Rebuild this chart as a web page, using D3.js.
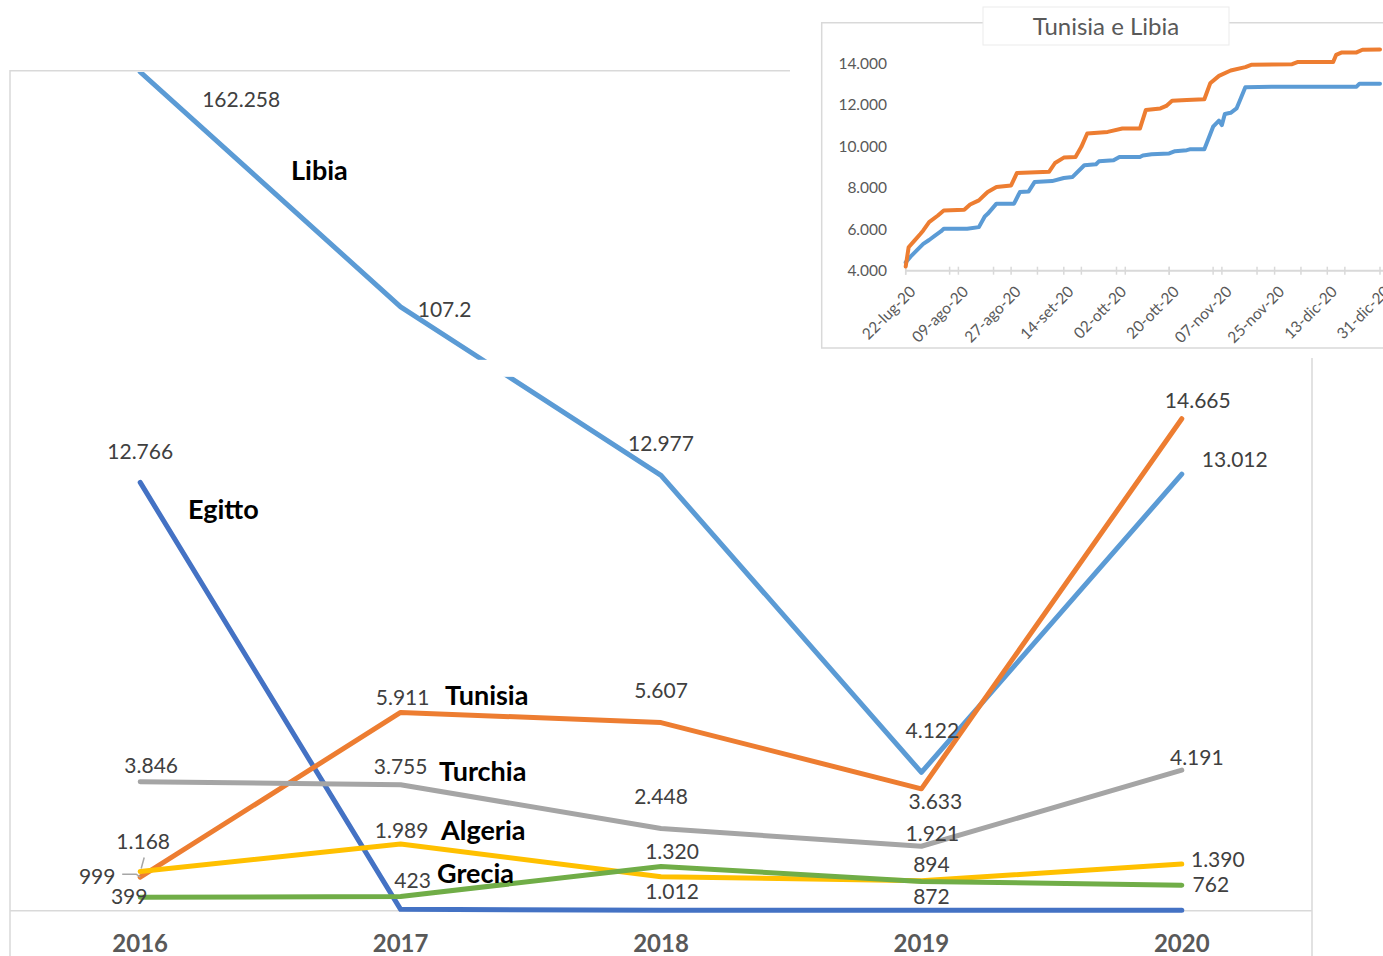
<!DOCTYPE html>
<html>
<head>
<meta charset="utf-8">
<script src="https://cdn.jsdelivr.net/npm/d3@7"></script>
<style>
body { margin: 0; background: #fff; }
text { font-family: Lato, "Open Sans", sans-serif; }
</style>
</head>
<body>
<div id="chart"></div>
<script>
// Main chart data (arrivals by country of departure)
var years = ["2016", "2017", "2018", "2019", "2020"];
// Libia: the first two years are off the scale, the line is drawn broken
var libiaValues = [25000, 18000, 12977, 4122, 13012];
var libiaLabels = ["162.258", "107.2", "12.977", "4.122", "13.012"];
var egittoValues = [12766, 40, 10, 10, 10];
var tunisiaValues = [999, 5911, 5607, 3633, 14665];
var turchiaValues = [3846, 3755, 2448, 1921, 4191];
var algeriaValues = [1168, 1989, 1012, 894, 1390];
var greciaValues = [399, 423, 1320, 872, 762];

// Inset data: Tunisia e Libia, cumulative 2020
var tunisiaDates = ["2020-07-22","2020-07-23","2020-07-25","2020-07-27","2020-07-28","2020-07-30",
  "2020-08-02","2020-08-04","2020-08-11","2020-08-13","2020-08-16","2020-08-18","2020-08-19",
  "2020-08-22","2020-08-27","2020-08-29","2020-09-09","2020-09-11","2020-09-14","2020-09-18",
  "2020-09-20","2020-09-22","2020-09-29","2020-10-04","2020-10-10","2020-10-12","2020-10-17",
  "2020-10-19","2020-10-21","2020-10-26","2020-11-01","2020-11-03","2020-11-06","2020-11-10",
  "2020-11-15","2020-11-17","2020-12-01","2020-12-03","2020-12-15","2020-12-16","2020-12-18",
  "2020-12-23","2020-12-25","2020-12-31"];
var tunisiaCum = [4200,5130,5450,5770,5940,6340,
  6660,6900,6940,7190,7390,7660,7790,
  8030,8110,8710,8770,9190,9450,9480,
  9970,10610,10690,10850,10850,11740,11820,
  11940,12190,12230,12260,13030,13390,13650,
  13810,13920,13950,14060,14060,14400,14520,
  14520,14650,14665];
var libiaDates = ["2020-07-22","2020-07-24","2020-07-28","2020-07-30","2020-08-01","2020-08-03",
  "2020-08-04","2020-08-12","2020-08-16","2020-08-18","2020-08-19","2020-08-22","2020-08-28",
  "2020-08-30","2020-09-02","2020-09-04","2020-09-10","2020-09-14","2020-09-17","2020-09-21",
  "2020-09-25","2020-09-26","2020-10-01","2020-10-03","2020-10-10","2020-10-11","2020-10-14",
  "2020-10-20","2020-10-22","2020-10-26","2020-10-27","2020-11-01","2020-11-02","2020-11-04",
  "2020-11-06","2020-11-07","2020-11-08","2020-11-10","2020-11-12","2020-11-13","2020-11-15",
  "2020-11-24","2020-12-23","2020-12-24","2020-12-31"];
var libiaCum = [4400,4730,5290,5480,5690,5890,
  6020,6020,6100,6610,6740,7230,7230,
  7790,7820,8270,8320,8470,8520,9080,
  9130,9270,9320,9480,9480,9550,9610,
  9650,9760,9810,9850,9850,10210,10940,
  11230,11020,11550,11610,11820,12150,12840,
  12870,12870,13012,13012];
var insetTicks = [4000, 6000, 8000, 10000, 12000, 14000];

var svgWidth = 1383;
var svgHeight = 956;

var itFormat = d3.formatLocale({decimal: ",", thousands: ".", grouping: [3], currency: ["€", ""]}).format(",d");
var itTime = d3.timeFormatLocale({
  dateTime: "%A %e %B %Y, %X", date: "%d/%m/%Y", time: "%H:%M:%S",
  periods: ["AM", "PM"],
  days: ["domenica","lunedì","martedì","mercoledì","giovedì","venerdì","sabato"],
  shortDays: ["dom","lun","mar","mer","gio","ven","sab"],
  months: ["gennaio","febbraio","marzo","aprile","maggio","giugno","luglio","agosto","settembre","ottobre","novembre","dicembre"],
  shortMonths: ["gen","feb","mar","apr","mag","giu","lug","ago","set","ott","nov","dic"]
}).format("%d-%b-%y");

var svg = d3.select("#chart").append("svg")
  .attr("width", svgWidth)
  .attr("height", svgHeight);

// Main chart area
var plot = {left: 10, right: 1312, top: 72, bottom: 910.7};

var xScale = d3.scalePoint()
  .domain(years)
  .range([plot.left, plot.right])
  .padding(0.5);

var yScale = d3.scaleLinear()
  .domain([0, 25000])
  .range([plot.bottom, plot.top]);

var frameColor = "#d9d9d9";

// frame
svg.append("path")
  .attr("d", `M${plot.left},${svgHeight} V${plot.top - 1.3} H${plot.right} V${svgHeight}`)
  .attr("fill", "none")
  .attr("stroke", frameColor)
  .attr("stroke-width", 1.5);

// x axis line
svg.append("line")
  .attr("x1", plot.left).attr("x2", plot.right)
  .attr("y1", yScale(0)).attr("y2", yScale(0))
  .attr("stroke", frameColor)
  .attr("stroke-width", 1.5);

// year labels
svg.append("g").selectAll("text")
  .data(years)
  .enter()
  .append("text")
  .attr("x", d => xScale(d))
  .attr("y", 952)
  .attr("text-anchor", "middle")
  .attr("font-size", 24)
  .attr("font-weight", "bold")
  .attr("fill", "#595959")
  .text(d => d);

svg.append("clipPath").attr("id", "plotClip")
  .append("rect")
  .attr("x", plot.left).attr("y", plot.top)
  .attr("width", plot.right - plot.left)
  .attr("height", plot.bottom - plot.top + 10);

var series = [
  {name: "Libia", values: libiaValues, labels: libiaLabels, color: "#5B9BD5",
   offsets: [[101, 28], [44, 3], [0, -32], [11, -42], [53, -15]], namePos: [291, 171]},
  {name: "Egitto", values: egittoValues, labels: ["12.766", "", "", "", ""], color: "#4472C4",
   offsets: [[0, -31], null, null, null, null], namePos: [188, 510]},
  {name: "Tunisia", values: tunisiaValues, color: "#ED7D31",
   offsets: [[-43, -1], [2, -15], [0, -32], [14, 13], [16, -18]], namePos: [445, 696]},
  {name: "Turchia", values: turchiaValues, color: "#A5A5A5",
   offsets: [[11, -16], [0, -18], [0, -32], [11, -13], [15, -12]], namePos: [439, 772]},
  {name: "Algeria", values: algeriaValues, color: "#FFC000",
   offsets: [[3, -30], [1, -13], [11, 15], [10, -16], [36, -4]], namePos: [441, 831]},
  {name: "Grecia", values: greciaValues, color: "#70AD47",
   offsets: [[-11, -1], [12, -16], [11, -15], [10, 15], [29, 0]], namePos: [437, 874]}
];

var line = d3.line()
  .x(d => xScale(d.year))
  .y(d => yScale(d.value));

var linesGroup = svg.append("g").attr("clip-path", "url(#plotClip)");

series.forEach(function(s) {
  var pts = years.map((y, i) => ({year: y, value: s.values[i]}));
  linesGroup.append("path")
    .datum(pts)
    .attr("d", line)
    .attr("fill", "none")
    .attr("stroke", s.color)
    .attr("stroke-width", 5)
    .attr("stroke-linejoin", "round")
    .attr("stroke-linecap", "round");
});

// break in the Libia line
svg.append("rect")
  .attr("x", 468).attr("y", yScale(18000) + 53)
  .attr("width", 52).attr("height", 17)
  .attr("fill", "#fff");

// leader lines for the crowded 2016 labels
var leader = d3.line();
var tunisiaPt = [xScale("2016"), yScale(tunisiaValues[0])];
var algeriaPt = [xScale("2016"), yScale(algeriaValues[0])];
svg.append("path")
  .attr("d", leader([[tunisiaPt[0] - 18, tunisiaPt[1] - 3], [tunisiaPt[0] - 4, tunisiaPt[1] - 3], tunisiaPt]))
  .attr("fill", "none").attr("stroke", "#a6a6a6").attr("stroke-width", 1.5);
svg.append("path")
  .attr("d", leader([[algeriaPt[0] + 4, algeriaPt[1] - 14], [algeriaPt[0] + 1, algeriaPt[1] - 3]]))
  .attr("fill", "none").attr("stroke", "#a6a6a6").attr("stroke-width", 1.5);

// data labels
var labelsGroup = svg.append("g");
series.forEach(function(s) {
  s.values.forEach(function(v, i) {
    if (!s.offsets[i]) return;
    var txt = s.labels ? s.labels[i] : itFormat(v);
    labelsGroup.append("text")
      .attr("x", xScale(years[i]) + s.offsets[i][0])
      .attr("y", yScale(v) + s.offsets[i][1])
      .attr("dy", "0.35em")
      .attr("text-anchor", "middle")
      .attr("font-size", 21)
      .attr("fill", "#404040")
      .text(txt);
  });
});

// series names
svg.append("g").selectAll("text")
  .data(series)
  .enter()
  .append("text")
  .attr("x", d => d.namePos[0])
  .attr("y", d => d.namePos[1])
  .attr("dy", "0.35em")
  .attr("font-size", 27)
  .attr("font-weight", "bold")
  .attr("fill", "#000")
  .text(d => d.name);

// ---- Inset chart: Tunisia e Libia ----
var inset = {left: 821.7, top: 22.7, bottom: 348, plotLeft: 905.7, plotRight: 1380};

svg.append("rect")
  .attr("x", 790).attr("y", 0)
  .attr("width", svgWidth - 790).attr("height", 358)
  .attr("fill", "#fff");

svg.append("path")
  .attr("d", `M${svgWidth + 2},${inset.top} H${inset.left} V${inset.bottom} H${svgWidth + 2}`)
  .attr("fill", "none")
  .attr("stroke", frameColor)
  .attr("stroke-width", 1.5);

var parseDate = d3.timeParse("%Y-%m-%d");
var startDate = parseDate("2020-07-22");
var endDate = parseDate("2020-12-31");

var xInset = d3.scaleTime()
  .domain([startDate, endDate])
  .range([inset.plotLeft, inset.plotRight]);

var yInset = d3.scaleLinear()
  .domain([4000, 14000])
  .range([270.7, 63.2]);

// y labels
svg.append("g").selectAll("text")
  .data(insetTicks)
  .enter()
  .append("text")
  .attr("x", 887)
  .attr("y", d => yInset(d))
  .attr("dy", "0.35em")
  .attr("text-anchor", "end")
  .attr("font-size", 15.5)
  .attr("fill", "#595959")
  .text(d => itFormat(d));

// x axis
svg.append("line")
  .attr("x1", inset.plotLeft).attr("x2", svgWidth)
  .attr("y1", yInset(4000)).attr("y2", yInset(4000))
  .attr("stroke", frameColor).attr("stroke-width", 2);

var majorTicks = d3.range(0, 163, 18).map(d => d3.timeDay.offset(startDate, d));
var minorTicks = d3.range(0, 163, 15).map(d => d3.timeDay.offset(startDate, d));

svg.append("g").selectAll("line")
  .data(majorTicks.concat(minorTicks))
  .enter()
  .append("line")
  .attr("x1", d => xInset(d)).attr("x2", d => xInset(d))
  .attr("y1", yInset(4000) - 4).attr("y2", yInset(4000) + 4)
  .attr("stroke", frameColor).attr("stroke-width", 1.5);

svg.append("g").selectAll("text")
  .data(majorTicks)
  .enter()
  .append("text")
  .attr("transform", d => `translate(${xInset(d) + 7},${yInset(4000) + 18}) rotate(-45)`)
  .attr("dy", "0.35em")
  .attr("text-anchor", "end")
  .attr("font-size", 15.5)
  .attr("fill", "#595959")
  .text(d => itTime(d));

var insetLine = d3.line()
  .x(d => xInset(d.date))
  .y(d => yInset(d.value));

var insetSeries = [
  {dates: libiaDates, values: libiaCum, color: "#5B9BD5"},
  {dates: tunisiaDates, values: tunisiaCum, color: "#ED7D31"}
];

insetSeries.forEach(function(s) {
  var pts = s.dates.map((d, i) => ({date: parseDate(d), value: s.values[i]}));
  svg.append("path")
    .datum(pts)
    .attr("d", insetLine)
    .attr("fill", "none")
    .attr("stroke", s.color)
    .attr("stroke-width", 4)
    .attr("stroke-linejoin", "round")
    .attr("stroke-linecap", "round");
});

// title box
svg.append("rect")
  .attr("x", 983).attr("y", 7)
  .attr("width", 246).attr("height", 38)
  .attr("fill", "#fff")
  .attr("stroke", "#ebebeb");

svg.append("text")
  .attr("x", 1106).attr("y", 27)
  .attr("dy", "0.35em")
  .attr("text-anchor", "middle")
  .attr("font-size", 24)
  .attr("fill", "#595959")
  .text("Tunisia e Libia");
</script>
</body>
</html>
